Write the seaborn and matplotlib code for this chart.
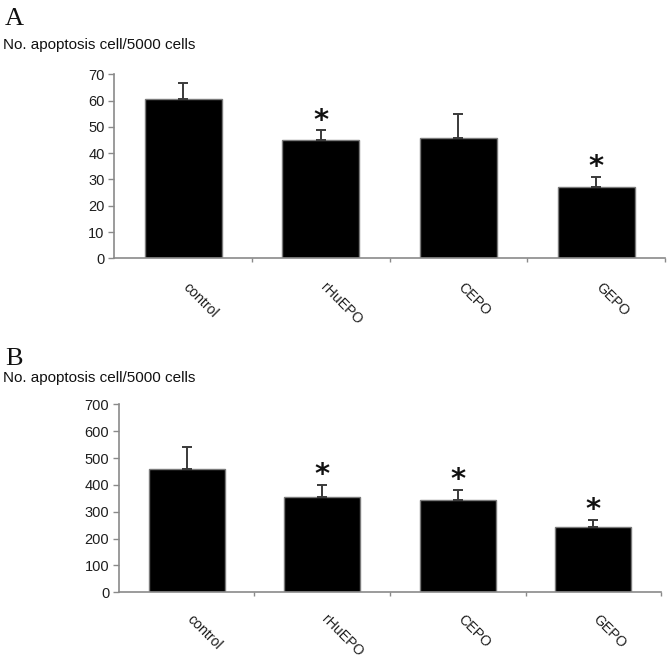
import numpy as np
import matplotlib
matplotlib.use("Agg")
import matplotlib.pyplot as plt
import seaborn as sns
from matplotlib.transforms import ScaledTranslation

sns.set_style("white")
plt.rcParams["font.family"] = ["Liberation Sans", "DejaVu Sans"]

# DATA

groups = ["control", "rHuEPO", "CEPO", "GEPO"]

# panel A
a_mean = [60.6, 45.1, 45.8, 27.2]
a_err = [6.1, 3.7, 9.0, 3.9]
a_star = [False, True, False, True]

# panel B
b_mean = [458, 356, 343, 242]
b_err = [84, 43, 38, 27]
b_star = [False, True, True, True]

a_ticks = [0, 10, 20, 30, 40, 50, 60, 70]
b_ticks = [0, 100, 200, 300, 400, 500, 600, 700]

ylabel = "No. apoptosis cell/5000 cells"

fig = plt.figure(figsize=(6.7, 6.6), dpi=100)

ax_a = fig.add_axes([0.1706, 0.6086, 0.8219, 0.2788])
ax_b = fig.add_axes([0.1776, 0.1026, 0.8090, 0.2848])

spine_col = "#8a8a8a"
text_col = "#1e1e1e"


def draw_panel(ax, means, errs, stars, ticks, star_gap, lab_pad):
    sns.barplot(
        x=groups,
        y=means,
        ax=ax,
        color="black",
        edgecolor="#7a7a7a",
        linewidth=1.0,
        width=0.56,
        errorbar=None,
        saturation=1,
    )
    xs = np.arange(len(groups))
    ax.errorbar(
        xs, means,
        yerr=[np.zeros(len(errs)), errs],
        fmt="none",
        ecolor="#3a3a3a",
        elinewidth=1.4,
        capsize=3.5,
        capthick=1.4,
        zorder=1,
    )
    for i in range(len(groups)):
        if stars[i]:
            ax.text(xs[i], means[i] + errs[i] + star_gap, "*",
                    ha="center", va="center", fontsize=21,
                    fontweight="bold", family="DejaVu Sans", color="#111111")

    ax.set_xlim(-0.5, len(groups) - 0.5)
    ax.set_ylim(ticks[0], ticks[-1])
    ax.set_yticks(ticks)
    ax.set_yticklabels([str(t) for t in ticks], fontsize=10.5, color=text_col)

    ax.set_xticks(xs)
    ax.set_xticklabels(groups, fontsize=10.2, color=text_col,
                       rotation=-45, ha="left", rotation_mode="anchor")
    ax.set_xticks(np.arange(len(groups)) + 0.5, minor=True)
    ax.tick_params(axis="x", which="major", length=0, pad=lab_pad)
    ax.tick_params(axis="x", which="minor", length=3, width=1,
                   color=spine_col, direction="out", bottom=True)
    ax.tick_params(axis="y", length=4, width=1, color=spine_col,
                   direction="out", left=True, pad=3)
    for lbl in ax.get_xticklabels():
        lbl.set_transform(lbl.get_transform()
                          + ScaledTranslation(7 / 100, 0, fig.dpi_scale_trans))

    for s in ["top", "right"]:
        ax.spines[s].set_visible(False)
    for s in ["left", "bottom"]:
        ax.spines[s].set_color(spine_col)
        ax.spines[s].set_linewidth(1.2)
    ax.set_xlabel("")
    ax.set_ylabel("")


draw_panel(ax_a, a_mean, a_err, a_star, a_ticks, 3.6, 16)
draw_panel(ax_b, b_mean, b_err, b_star, b_ticks, 36, 14)

# panel letters and y labels
fig.text(5 / 670, 1 - 25 / 660, "A", fontsize=19, family="Liberation Serif",
         va="baseline", ha="left", color="#111111")
fig.text(3 / 670, 1 - 48.7 / 660, ylabel, fontsize=11, va="baseline",
         ha="left", color="#111111")
fig.text(5 / 670, 1 - 365 / 660, "B", fontsize=19, family="Liberation Serif",
         va="baseline", ha="left", color="#111111")
fig.text(3 / 670, 1 - 382.3 / 660, ylabel, fontsize=11, va="baseline",
         ha="left", color="#111111")

plt.savefig("out.png", dpi=100)
plt.close()
